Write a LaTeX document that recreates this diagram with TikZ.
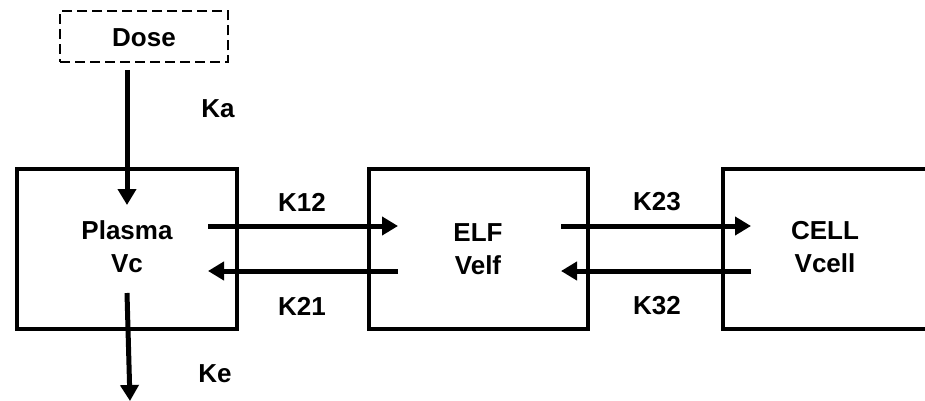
\documentclass[tikz,border=0pt]{standalone}
\usepackage{fontspec}
\setmainfont{Liberation Sans}
\usetikzlibrary{arrows.meta}
\begin{document}
\begin{tikzpicture}[x=1pt,y=-1pt,
  lbl/.style={font=\fontsize{26}{33}\selectfont\bfseries, align=center, inner sep=0pt},
  comp/.style={draw, line width=3.3pt, inner sep=0pt, minimum height=160pt},
  flow/.style={line width=5pt, -{Triangle[length=16pt,width=18pt]}}]
\useasboundingbox (0,0) rectangle (925,401);
\clip (0,0) rectangle (925,401);
\node[draw, line width=2pt, dash pattern=on 10pt off 5pt, minimum width=168pt, minimum height=51pt, inner sep=0pt] (dose) at (144,37) {};
\node[lbl] (dosetxt) at (144,38) {Dose};
\node[comp, minimum width=220pt] (plasma) at (127,249) {};
\node[comp, minimum width=219pt] (elf) at (478.5,249) {};
\node[comp, minimum width=204pt] (cell) at (825,249) {};
\node[lbl] (plasmatxt) at (127,247) {Plasma\\Vc};
\node[lbl] (elftxt) at (478,249) {ELF\\Velf};
\node[lbl] (celltxt) at (825,247) {CELL\\Vcell};
\coordinate (kaS) at (127,70);
\coordinate (kaE) at (127,205);
\coordinate (keS) at (127,293);
\coordinate (keE) at (130,401);
\coordinate (p1) at (208,226);
\coordinate (e1) at (398,226);
\coordinate (p2) at (208,271);
\coordinate (e2) at (398,271);
\coordinate (e3) at (561,226);
\coordinate (c3) at (751,226);
\coordinate (e4) at (561,271);
\coordinate (c4) at (751,271);
\draw[flow] (kaS) -- (kaE);
\draw[flow] (keS) -- (keE);
\draw[flow] (p1) -- (e1);
\draw[flow] (e2) -- (p2);
\draw[flow] (e3) -- (c3);
\draw[flow] (c4) -- (e4);
\node[lbl] (ka) at (218,109) {Ka};
\node[lbl] (ke) at (215,374) {Ke};
\node[lbl] (k12) at (302,202) {K12};
\node[lbl] (k21) at (302,306) {K21};
\node[lbl] (k23) at (657,202) {K23};
\node[lbl] (k32) at (657,306) {K32};
\end{tikzpicture}
\end{document}
